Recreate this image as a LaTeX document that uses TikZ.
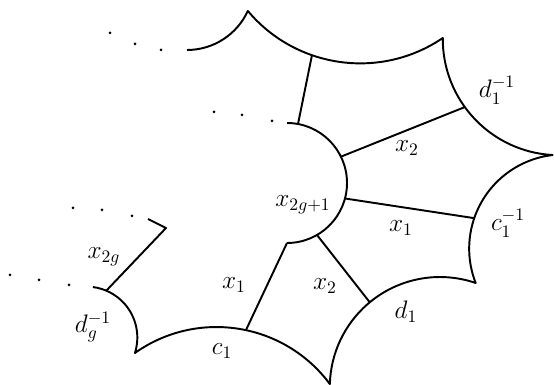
\documentclass[tikz,border=0pt]{standalone}
\usepackage{amsmath}

\begin{document}
\begin{tikzpicture}[x=0.2mm,y=0.2mm,every node/.style={font=\Large},
    edge/.style={line width=1.1pt,line join=round}]
    \useasboundingbox (0,0) rectangle (554,385);
    % outer boundary, arcs from the top left round to the left
    \draw[edge] (187,335) arc[start angle=270,end angle=335.4,radius=66.9]
      arc[start angle=220,end angle=304.2,radius=146.8]
      arc[start angle=179.5,end angle=266.9,radius=116.2]
      arc[start angle=96.5,end angle=201.4,radius=94.2]
      arc[start angle=71.05,end angle=178.4,radius=110.1]
      arc[start angle=36.6,end angle=125.3,radius=141.2]
      arc[start angle=-17.7,end angle=82.7,radius=50.9];
    % inner half circle
    \draw[edge] (287,262) arc[start angle=90,end angle=-90,radius=60];
    % cuts
    \draw[edge] (298,261) -- (312,330);
    \draw[edge] (340.9,228.3) -- (465,278);
    \draw[edge] (345,186.5) -- (474.5,166.8);
    \draw[edge] (317,150) -- (369.5,83);
    \draw[edge] (287,142) -- (246,55);
    \draw[edge] (106,94) -- (166,157) -- (148,166);
    % dots
    \foreach \p in {(110,352),(135,341),(161,335),(214,273),(242,270),(272,264),
                    (73,177),(102,175),(132,169),(10,110),(39,105),(69,100)}
      \fill \p circle[radius=1.5];
    % labels
    \node (d1inv) at (497,295) {$d_1^{-1}$};
    \node (x2up) at (407,237) {$x_2$};
    \node (xmid) at (303,180) {$x_{2g+1}$};
    \node (x1r) at (401,157) {$x_1$};
    \node (c1inv) at (508,162) {$c_1^{-1}$};
    \node (x2lo) at (325,99) {$x_2$};
    \node (d1) at (406,73) {$d_1$};
    \node (x1lo) at (234,100) {$x_1$};
    \node (c1) at (222,34) {$c_1$};
    \node (x2g) at (104,128) {$x_{2g}$};
    \node (dginv) at (93,58) {$d_g^{-1}$};
\end{tikzpicture}
\end{document}
